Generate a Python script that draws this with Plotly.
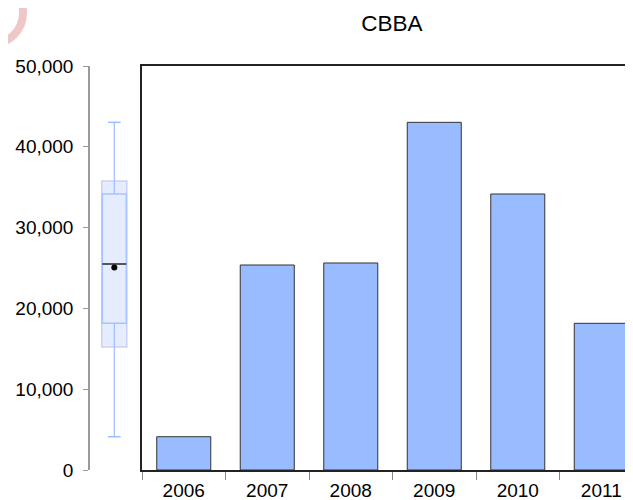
import numpy as np
import plotly.graph_objects as go

# CBBA yearly values
years = ["2006", "2007", "2008", "2009", "2010", "2011"]
cbba = [4120, 25370, 25620, 43030, 34160, 18155]
y_ticks = [0, 10000, 20000, 30000, 40000, 50000]

# the page body has an 8px margin, so the figure is sized to fit the window
W, H = 625, 492
FONT = "Liberation Sans, Arial, sans-serif"
BAR_BLUE = "#99BBFF"

# summary stats for the side box plot (EViews style)
vals = np.array(cbba, dtype=float)
q1, q3 = np.percentile(vals, [25, 75], method="inverted_cdf")
med = float(np.median(vals))
mean = float(vals.mean())
vmin, vmax = float(vals.min()), float(vals.max())
ci = 1.57 * (q3 - q1) / np.sqrt(len(vals))
ci_lo, ci_hi = med - ci, med + ci
box_w = 1.03

fig = go.Figure()

# box plot on the left strip
fig.add_trace(go.Bar(
    x=[0], y=[ci_hi - ci_lo], base=[ci_lo], width=box_w,
    marker=dict(color="#E4ECFD", line=dict(color="#CFCFF7", width=1.5)),
    xaxis="x2", yaxis="y", hoverinfo="skip"
))
fig.add_trace(go.Bar(
    x=[0], y=[q3 - q1], base=[q1], width=box_w * 0.96,
    marker=dict(color="rgba(0,0,0,0)", line=dict(color="#A6C4FF", width=1.5)),
    xaxis="x2", yaxis="y", hoverinfo="skip"
))
fig.add_trace(go.Scatter(
    x=[0, 0, None, 0, 0], y=[vmax, q3, None, q1, vmin], mode="lines",
    line=dict(color="#9DBEFF", width=1.2),
    xaxis="x2", yaxis="y", hoverinfo="skip"
))
fig.add_trace(go.Scatter(
    x=[0, 0], y=[vmax, vmin], mode="markers",
    marker=dict(symbol="line-ew", size=9, line=dict(color="#9DBEFF", width=1.5)),
    xaxis="x2", yaxis="y", hoverinfo="skip"
))
fig.add_trace(go.Scatter(
    x=[-box_w / 2 * 0.96, box_w / 2 * 0.96], y=[med, med], mode="lines",
    line=dict(color="#555555", width=2),
    xaxis="x2", yaxis="y", hoverinfo="skip"
))
fig.add_trace(go.Scatter(
    x=[0], y=[mean], mode="markers",
    marker=dict(color="black", size=6),
    xaxis="x2", yaxis="y", hoverinfo="skip"
))

# main bars
fig.add_trace(go.Bar(
    x=years, y=cbba, width=0.647,
    marker=dict(color=BAR_BLUE, line=dict(color="#333333", width=1)),
    xaxis="x", yaxis="y2"
))

y_dom = [(H - 462) / H, (H - 58) / H]

fig.update_layout(
    template="none",
    width=W, height=H,
    margin=dict(l=0, r=0, t=0, b=0, pad=0),
    paper_bgcolor="white", plot_bgcolor="white",
    showlegend=False, barmode="overlay",
    font=dict(family=FONT, size=19, color="black"),
    title=dict(text="CBBA", x=384 / W, xanchor="center",
               y=1 - 15 / H, yanchor="middle",
               font=dict(size=22.5, family=FONT, color="black")),
    xaxis=dict(
        domain=[134 / W, 1], type="category", range=[-0.5, 5.38],
        showline=True, mirror=True, linecolor="#222222", linewidth=1.5,
        ticks="outside", tickson="boundaries", ticklen=8, tickcolor="#888888",
        ticklabelstandoff=2,
        showgrid=False, anchor="y2", automargin=False,
    ),
    xaxis2=dict(domain=[82 / W, 134 / W], range=[-1, 1.14], visible=False,
                anchor="y", automargin=False),
    yaxis=dict(
        domain=y_dom, range=[0, 50000], anchor="x2", side="left",
        tickvals=y_ticks, tickformat=",", ticks="outside", ticklen=5,
        tickcolor="#999999", showline=True, linecolor="#9A9A9A", linewidth=1.5,
        showgrid=False, zeroline=False, ticklabelstandoff=6, automargin=False,
    ),
    yaxis2=dict(
        domain=y_dom, range=[0, 50000], anchor="x",
        showticklabels=False, ticks="", showline=True, linecolor="#222222",
        linewidth=1.5, showgrid=False, zeroline=False, automargin=False,
    ),
    shapes=[dict(
        type="circle", xref="paper", yref="paper",
        x0=(-16 - 31) / W, x1=(-16 + 31) / W,
        y0=1 - (5 + 31) / H, y1=1 - (5 - 31) / H,
        line=dict(color="#EEC8C9", width=8),
    )],
)

fig.write_html("out.html")
